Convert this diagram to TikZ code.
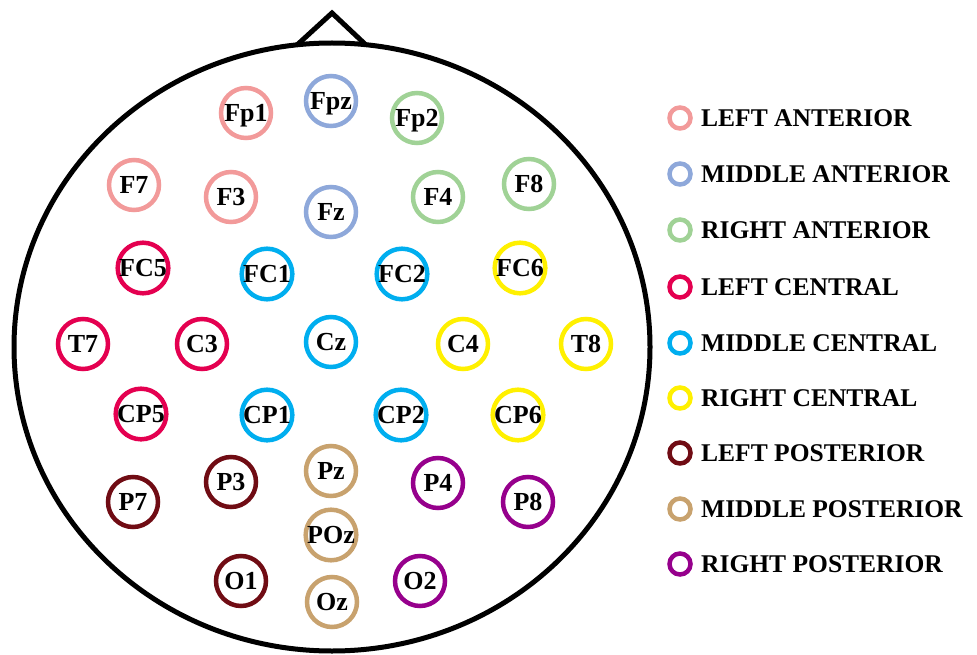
\documentclass[tikz,border=0pt]{standalone}
\usepackage{fontspec}
\setmainfont{Liberation Serif}
\definecolor{cLA}{RGB}{242,154,154}
\definecolor{cMA}{RGB}{142,168,218}
\definecolor{cRA}{RGB}{160,210,150}
\definecolor{cLC}{RGB}{228,0,80}
\definecolor{cMC}{RGB}{0,174,239}
\definecolor{cRC}{RGB}{255,240,0}
\definecolor{cLP}{RGB}{112,12,20}
\definecolor{cMP}{RGB}{200,162,110}
\definecolor{cRP}{RGB}{150,0,140}
\tikzset{
  electrode/.style={circle, draw=#1, line width=4.5pt, minimum size=50pt, inner sep=0pt,
    font=\fontsize{26}{26}\selectfont\bfseries, text height=17.2pt, text depth=0pt},
  legmark/.style={circle, draw=#1, line width=4.5pt, minimum size=21pt, inner sep=0pt},
  legtext/.style={anchor=west, inner sep=0pt, font=\fontsize{25.5}{25.5}\selectfont\bfseries,
    text height=16.9pt, text depth=0pt},
  headline/.style={line width=5pt, black}
}
\begin{document}
\begin{tikzpicture}[x=1pt,y=-1pt]
\useasboundingbox (0,0) rectangle (977,655);
% head
\draw[headline] (332,347) ellipse [x radius=318, y radius=304];
\coordinate (nl) at (297,45);
\coordinate (nt) at (332,13);
\coordinate (nr) at (366,45);
\draw[headline, line join=miter] (nl) -- (nt) -- (nr);
% electrodes
\node[electrode=cLA] (Fp1) at (246,113) {Fp1};
\node[electrode=cMA] (Fpz) at (331,101) {Fpz};
\node[electrode=cRA] (Fp2) at (417,118) {Fp2};
\node[electrode=cLA] (F7) at (134,185) {F7};
\node[electrode=cLA] (F3) at (231,197) {F3};
\node[electrode=cMA] (Fz) at (331,212) {Fz};
\node[electrode=cRA] (F4) at (438,197) {F4};
\node[electrode=cRA] (F8) at (529,184) {F8};
\node[electrode=cLC] (FC5) at (143,268) {FC5};
\node[electrode=cMC] (FC1) at (267,274) {FC1};
\node[electrode=cMC] (FC2) at (402,274) {FC2};
\node[electrode=cRC] (FC6) at (520,268) {FC6};
\node[electrode=cLC] (T7) at (83,344) {T7};
\node[electrode=cLC] (C3) at (202,344) {C3};
\node[electrode=cMC] (Cz) at (331,342) {Cz};
\node[electrode=cRC] (C4) at (463,344) {C4};
\node[electrode=cRC] (T8) at (586,344) {T8};
\node[electrode=cLC] (CP5) at (141,414) {CP5};
\node[electrode=cMC] (CP1) at (267,415) {CP1};
\node[electrode=cMC] (CP2) at (401,415) {CP2};
\node[electrode=cRC] (CP6) at (518,415) {CP6};
\node[electrode=cLP] (P7) at (133,502) {P7};
\node[electrode=cLP] (P3) at (231,482) {P3};
\node[electrode=cMP] (Pz) at (331,471) {Pz};
\node[electrode=cRP] (P4) at (438,483) {P4};
\node[electrode=cRP] (P8) at (528,502) {P8};
\node[electrode=cMP] (POz) at (331,535) {POz};
\node[electrode=cLP] (O1) at (241,581) {O1};
\node[electrode=cMP] (Oz) at (332,602) {Oz};
\node[electrode=cRP] (O2) at (420,581) {O2};
% legend
\node[legmark=cLA] (l1) at (680,118) {};
\node[legtext] (l1t) at (701,118) {LEFT ANTERIOR};
\node[legmark=cMA] (l2) at (680,174) {};
\node[legtext] (l2t) at (701,174) {MIDDLE ANTERIOR};
\node[legmark=cRA] (l3) at (680,230) {};
\node[legtext] (l3t) at (701,230) {RIGHT ANTERIOR};
\node[legmark=cLC] (l4) at (680,287) {};
\node[legtext] (l4t) at (701,287) {LEFT CENTRAL};
\node[legmark=cMC] (l5) at (680,343) {};
\node[legtext] (l5t) at (701,343) {MIDDLE CENTRAL};
\node[legmark=cRC] (l6) at (680,398) {};
\node[legtext] (l6t) at (701,398) {RIGHT CENTRAL};
\node[legmark=cLP] (l7) at (680,453) {};
\node[legtext] (l7t) at (701,453) {LEFT POSTERIOR};
\node[legmark=cMP] (l8) at (680,509) {};
\node[legtext] (l8t) at (701,509) {MIDDLE POSTERIOR};
\node[legmark=cRP] (l9) at (680,564) {};
\node[legtext] (l9t) at (701,564) {RIGHT POSTERIOR};
\end{tikzpicture}
\end{document}
